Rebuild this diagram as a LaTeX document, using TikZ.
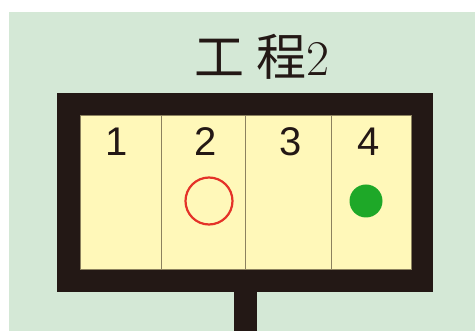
\documentclass[tikz,border=0pt]{standalone}
\usepackage{fontspec}
\setmainfont{Liberation Sans}
\newfontfamily\cjk{Noto Sans CJK SC}
\newfontfamily\serifnum{Latin Modern Roman}
\definecolor{bgG}{RGB}{212,232,214}
\definecolor{frameK}{RGB}{35,24,21}
\definecolor{cellY}{RGB}{255,248,185}
\definecolor{divL}{RGB}{140,130,95}
\definecolor{ringR}{RGB}{228,50,40}
\definecolor{dotG}{RGB}{30,168,40}
\tikzset{
  num/.style={font=\fontsize{40}{40}\selectfont, text=frameK, inner sep=0pt},
  cell/.style={fill=cellY, draw=divL, line width=0.8pt}
}
\begin{document}
\begin{tikzpicture}[x=1pt,y=-1pt]
\useasboundingbox (0,0) rectangle (475,331);
\fill[white] (0,0) rectangle (475,331);
\fill[bgG] (9,12) rectangle (475,331);
% title
\node[inner sep=0pt, anchor=base, text=frameK] (title) at (262,76) {\fontsize{50}{50}\selectfont{\cjk 工 程}\serifnum 2};
% post and frame
\fill[frameK] (234,285) rectangle (257,331);
\fill[frameK] (57,93) rectangle (433,292);
% cells
\draw[cell] (80,115) rectangle (161,269);
\draw[cell] (161,115) rectangle (245,269);
\draw[cell] (245,115) rectangle (331,269);
\draw[cell] (331,115) rectangle (411,269);
\node[num] (n1) at (117,142) {1};
\node[num] (n2) at (206,142) {2};
\node[num] (n3) at (291,142) {3};
\node[num] (n4) at (369,142) {4};
\draw[ringR, line width=2.2pt] (209,201) circle (23.5);
\fill[dotG] (366,201) circle (16.5);
\end{tikzpicture}
\end{document}
